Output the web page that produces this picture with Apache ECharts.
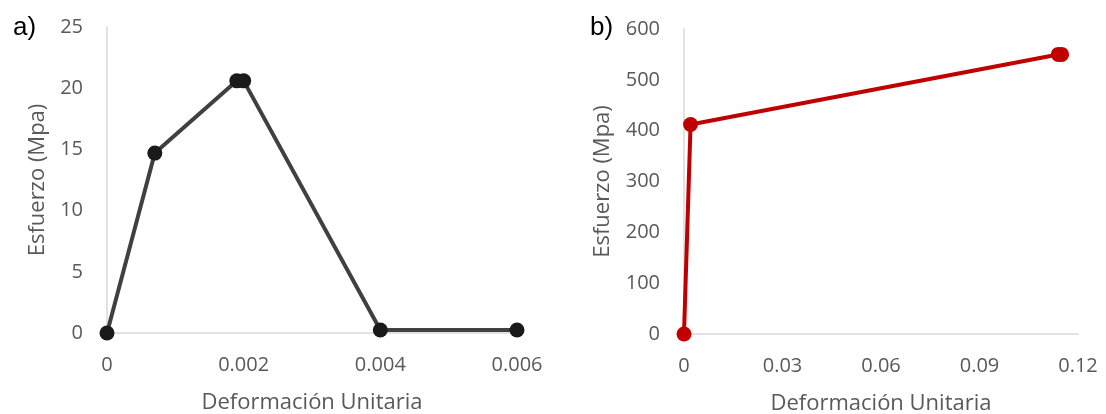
<!DOCTYPE html>
<html><head><meta charset="utf-8">
<script src="https://cdn.jsdelivr.net/npm/echarts@6/dist/echarts.min.js"></script>
<style>html,body{margin:0;padding:0;background:#fff}#c{width:1106px;height:414px}</style>
</head><body><div id="c"></div>
<script>
const strainA = [0, 0.0007, 0.0019, 0.002, 0.004, 0.006];
const stressA = [0, 14.7, 20.6, 20.6, 0.25, 0.25];
const strainB = [0, 0.002, 0.114, 0.115];
const stressB = [0, 412, 550, 550];
const xTitle = 'Deformación Unitaria';
const yTitle = 'Esfuerzo (Mpa)';

const font = '"Open Sans", "Noto Sans", sans-serif';
const grey = '#595959';
const chart = echarts.init(document.getElementById('c'), null, {renderer: 'canvas'});
function xAxis(idx, max, interval, dec) {
  return {
    type: 'value', gridIndex: idx, min: 0, max: max, interval: interval,
    name: xTitle, nameLocation: 'middle', nameGap: 59,
    nameTextStyle: {color: grey, fontSize: 22, fontFamily: font},
    axisLine: {show: true, lineStyle: {color: '#d9d9d9', width: 1.5}},
    axisTick: {show: false}, splitLine: {show: false},
    axisLabel: {color: grey, fontSize: 20, fontFamily: font, margin: 22,
      formatter: v => v === 0 ? '0' : v.toFixed(dec)}
  };
}
function yAxis(idx, max, interval, gap) {
  return {
    type: 'value', gridIndex: idx, min: 0, max: max, interval: interval,
    name: yTitle, nameLocation: 'middle', nameGap: gap,
    nameTextStyle: {color: grey, fontSize: 22, fontFamily: font},
    axisLine: {show: true, lineStyle: {color: '#d9d9d9', width: 1.5}},
    axisTick: {show: false}, splitLine: {show: false},
    axisLabel: {color: grey, fontSize: 20, fontFamily: font, margin: 24}
  };
}
chart.setOption({
  animation: false,
  title: [
    {text: 'a)', left: 8, top: 10, textStyle: {fontFamily: 'Liberation Sans, Arial', fontWeight: 'normal', fontSize: 26, color: '#000'}},
    {text: 'b)', left: 585, top: 10, textStyle: {fontFamily: 'Liberation Sans, Arial', fontWeight: 'normal', fontSize: 26, color: '#000'}}
  ],
  grid: [
    {left: 107, top: 27, width: 410, height: 306, containLabel: false, outerBoundsMode: 'none'},
    {left: 684, top: 29, width: 394, height: 305, containLabel: false, outerBoundsMode: 'none'}
  ],
  xAxis: [xAxis(0, 0.006, 0.002, 3), xAxis(1, 0.12, 0.03, 2)],
  yAxis: [yAxis(0, 25, 5, 58), yAxis(1, 600, 100, 70)],
  series: [
    {type: 'line', xAxisIndex: 0, yAxisIndex: 0, data: strainA.map((x, i) => [x, stressA[i]]),
      symbol: 'circle', symbolSize: 15, lineStyle: {color: '#404040', width: 4},
      itemStyle: {color: '#1a1a1a'}},
    {type: 'line', xAxisIndex: 1, yAxisIndex: 1, data: strainB.map((x, i) => [x, stressB[i]]),
      symbol: 'circle', symbolSize: 15, lineStyle: {color: '#C00000', width: 4},
      itemStyle: {color: '#C00000'}}
  ]
});
</script></body></html>
